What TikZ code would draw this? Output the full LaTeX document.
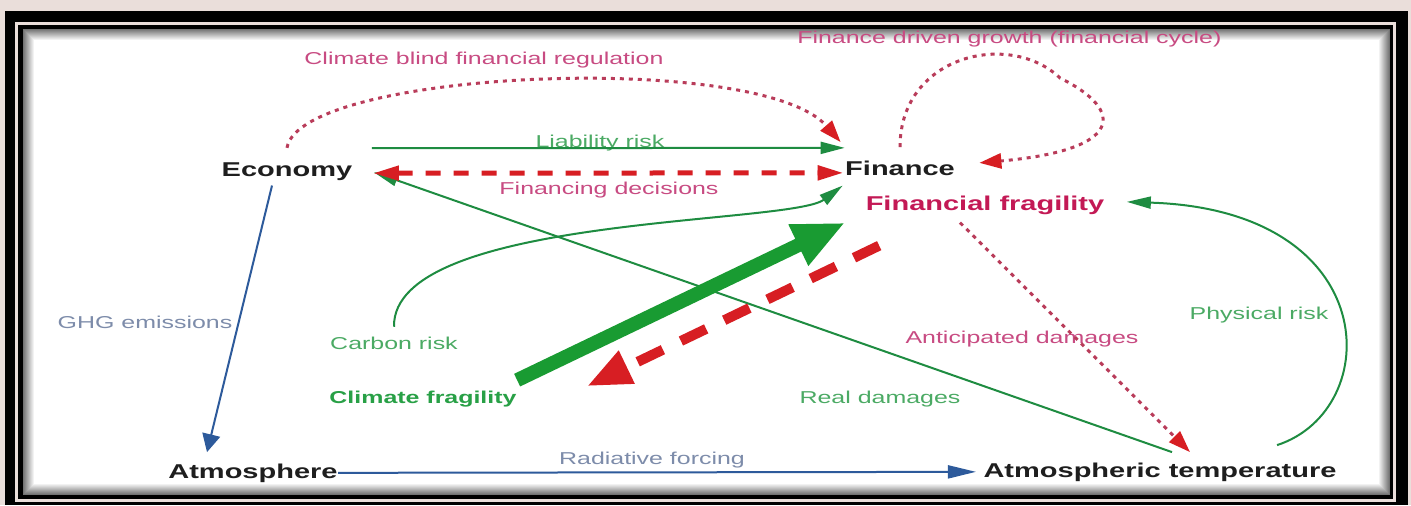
\documentclass[tikz,border=0pt]{standalone}
\usepackage{fontspec}
\setmainfont{Liberation Sans}
\usetikzlibrary{arrows.meta}

\begin{document}
\begin{tikzpicture}[x=0.5pt, y=-0.5pt,
    actor/.style={font=\bfseries\fontsize{10}{12}\selectfont, text=ink,
      inner sep=0pt, anchor=base, xscale=1.45},
    lbl/.style={font=\fontsize{8.6}{10}\selectfont, inner sep=0pt,
      anchor=base, xscale=1.45},
    risk/.style={draw=riskGreen, line width=1pt,
      -{Triangle[length=12pt, width=6pt]}},
    feed/.style={draw=dotPink, line width=1.5pt, dash pattern=on 2pt off 2.5pt,
      -{Triangle[length=11pt, width=7.5pt, color=hotRed, fill=hotRed]}},
    flux/.style={draw=skyBlue, line width=1pt}]
    % colours
    \definecolor{paper}{RGB}{234,222,218}
    \definecolor{ink}{RGB}{30,30,30}
    \definecolor{fragRed}{RGB}{195,25,85}
    \definecolor{fragGreen}{RGB}{40,160,70}
    \definecolor{labPink}{RGB}{200,75,130}
    \definecolor{labGreen}{RGB}{75,170,100}
    \definecolor{labBlue}{RGB}{125,140,170}
    \definecolor{riskGreen}{RGB}{30,140,65}
    \definecolor{bigGreen}{RGB}{25,155,50}
    \definecolor{hotRed}{RGB}{215,30,35}
    \definecolor{dotPink}{RGB}{185,60,90}
    \definecolor{skyBlue}{RGB}{45,90,155}

    % frame
    \fill[paper] (0,0) rectangle (1411,505);
    \fill[black] (5,11) rectangle (1408,505);
    \draw[paper, line width=1.5pt] (16.5,23.5) rectangle (1394.5,500.5);
    \fill[white] (23,29) rectangle (1390,495);
    \foreach \i in {0,...,11} {
        \pgfmathtruncatemacro{\tone}{55-5*\i}
        \draw[black!\tone, line width=0.5pt] (23.5+\i,29.5+\i) rectangle (1389.5-\i,494.5-\i);
    }

    % blocks
    \node[actor] (economy) at (287,176) {Economy};
    \node[actor] (finance) at (900,175) {Finance};
    \node[actor, text=fragRed] (fragfin) at (985,210) {Financial fragility};
    \node[actor, text=fragGreen, font=\bfseries\fontsize{8.6}{10}\selectfont] (fragclim) at (423,403) {Climate fragility};
    \node[actor] (atmo) at (253,478) {Atmosphere};
    \node[actor] (temp) at (1160,477) {Atmospheric temperature};

    % labels
    \node[lbl, text=labPink] (lregul) at (484,64) {Climate blind financial regulation};
    \node[lbl, text=labPink, anchor=base east] (lcycle) at (1222,43) {Finance driven growth (financial cycle)};
    \node[lbl, text=labGreen] (lliab) at (600,147) {Liability risk};
    \node[lbl, text=labPink] (lfinc) at (609,194) {Financing decisions};
    \node[lbl, text=labBlue] (lghg) at (145,328) {GHG emissions};
    \node[lbl, text=labGreen] (lcarb) at (394,349) {Carbon risk};
    \node[lbl, text=labGreen] (lreal) at (880,403) {Real damages};
    \node[lbl, text=labPink] (lanti) at (1022,343) {Anticipated damages};
    \node[lbl, text=labGreen] (lphys) at (1259,319) {Physical risk};
    \node[lbl, text=labBlue] (lrad) at (652,464) {Radiative forcing};

    % climate side
    \draw[flux, -{Triangle[length=9pt, width=9pt]}] ([shift={(-7.5pt,-2.5pt)}]economy.south) -- ([shift={(-23pt,5.5pt)}]atmo.north);
    \draw[flux, -{Triangle[length=14pt, width=6.5pt]}] (atmo.east) -- ([xshift=-3.5pt]temp.west);

    % risks
    \draw[risk] ([shift={(9.5pt,11.5pt)}]economy.east) -- ([yshift=10pt]finance.west);
    \draw[risk] ([yshift=4.7pt]lcarb.north) .. controls (392,215) and (790,225) .. ([shift={(-1pt,-5pt)}]finance.south west);
    \draw[risk] ([shift={(6pt,5pt)}]temp.north) -- ([shift={(10.5pt,-0.5pt)}]economy.east);
    \draw[risk] ([shift={(-30pt,8.5pt)}]temp.north east) .. controls (1385,410) and (1385,210) .. ([shift={(11pt,1.5pt)}]fragfin.east);

    % feedbacks
    \draw[feed] ([yshift=7pt]economy.north) .. controls (300,70) and (760,50) .. ([shift={(-2pt,9pt)}]finance.north west);
    \draw[feed] ([yshift=6.5pt]finance.north) .. controls (900,55) and (1010,30) .. (1060,78)
        .. controls (1125,110) and (1125,150) .. ([shift={(12pt,2.5pt)}]finance.east);
    \draw[feed] ([shift={(-12.5pt,-4pt)}]fragfin.south) -- ([shift={(15pt,5pt)}]temp.north);

    \draw[hotRed, line width=2.5pt, dash pattern=on 7.5pt off 6.5pt,
        {Triangle[length=13pt, width=7pt]}-{Triangle[length=13pt, width=7pt]}]
        ([shift={(10pt,-1pt)}]economy.east) -- ([shift={(-0.5pt,-2.5pt)}]finance.west);

    % fragility loop
    \draw[bigGreen, line width=7pt, -{Triangle[length=26pt, width=21pt]}]
        ([yshift=5pt]fragclim.north east) -- ([shift={(-10pt,-4pt)}]fragfin.south west);
    \draw[hotRed, line width=5pt, dash pattern=on 14pt off 10pt, -{Triangle[length=22pt, width=17pt]}]
        ([shift={(7pt,-15.5pt)}]fragfin.south west) -- ([shift={(35pt,2pt)}]fragclim.north east);
\end{tikzpicture}
\end{document}
